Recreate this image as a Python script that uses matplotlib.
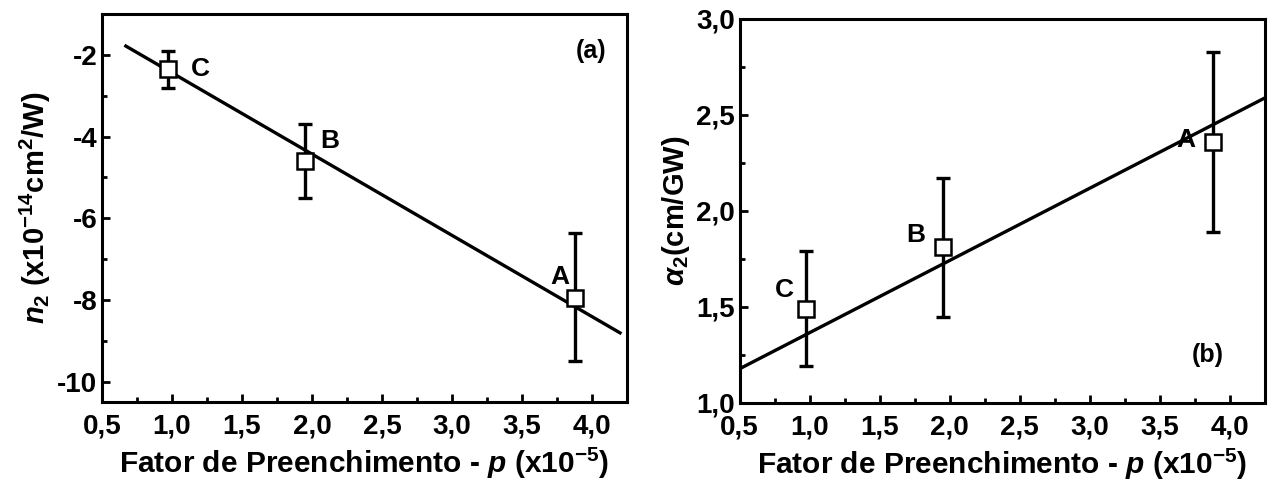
import matplotlib.pyplot as plt
from matplotlib.ticker import MultipleLocator, FuncFormatter

plt.rcParams['font.family'] = ['Liberation Sans', 'DejaVu Sans']
plt.rcParams['font.weight'] = 'bold'
plt.rcParams['axes.labelweight'] = 'bold'
plt.rcParams['mathtext.fontset'] = 'custom'
plt.rcParams['mathtext.rm'] = 'Liberation Sans:bold'
plt.rcParams['mathtext.bf'] = 'Liberation Sans:bold'
plt.rcParams['mathtext.it'] = 'Liberation Sans:italic:bold'

# samples A, B, C
labels = ['C', 'B', 'A']
p = [0.97, 1.95, 3.88]

n2 = [-2.35, -4.6, -7.95]
n2_lo = [-2.8, -5.5, -9.5]
n2_hi = [-1.9, -3.7, -6.35]
n2_fit = [-0.45, -1.99]  # intercept, slope

a2 = [1.49, 1.81, 2.36]
a2_lo = [1.19, 1.45, 1.89]
a2_hi = [1.79, 2.17, 2.83]
a2_fit = [0.99, 0.376]

fit_x = [0.67, 4.2]
fit_x_b = [0.5, 4.25]

comma = FuncFormatter(lambda v, pos: '{:.1f}'.format(v).replace('.', ','))
intfmt = FuncFormatter(lambda v, pos: '{:.0f}'.format(v))

fig = plt.figure(figsize=(12.71, 4.86), dpi=100)
ax1 = fig.add_axes([0.0803, 0.173, 0.413, 0.798])
ax2 = fig.add_axes([0.582, 0.171, 0.413, 0.790])


def style(ax):
    for s in ax.spines.values():
        s.set_linewidth(2.2)
    ax.tick_params(which='both', direction='in', width=2, labelsize=20)
    ax.tick_params(which='major', length=6)
    ax.tick_params(which='minor', length=3.5)
    ax.tick_params(axis='x', pad=8)
    ax.xaxis.set_major_locator(MultipleLocator(0.5))
    ax.xaxis.set_minor_locator(MultipleLocator(0.25))
    ax.xaxis.set_major_formatter(comma)
    ax.set_xlim(0.5, 4.25)
    ax.set_xlabel(r'Fator de Preenchimento - $\mathit{p}$ (x10$^{-5}$)', fontsize=21.5, labelpad=5)


def draw(ax, y, lo, hi, fit, fx):
    err = [[v - l for v, l in zip(y, lo)], [h - v for v, h in zip(y, hi)]]
    fy = [fit[0] + fit[1] * x for x in fx]
    ax.plot(fx, fy, color='black', lw=2.4, zorder=2)
    ax.errorbar(p, y, yerr=err, fmt='none', ecolor='black', elinewidth=2.4,
                capsize=5, capthick=2.4, zorder=3)
    ax.plot(p, y, ls='none', marker='s', ms=11, mfc='white', mec='black', mew=1.8, zorder=4)


# (a)
style(ax1)
draw(ax1, n2, n2_lo, n2_hi, n2_fit, fit_x)
ax1.set_ylim(-10.5, -1)
ax1.yaxis.set_major_locator(MultipleLocator(2))
ax1.yaxis.set_minor_locator(MultipleLocator(1))
ax1.yaxis.set_major_formatter(intfmt)
ax1.set_ylabel(r'$\mathit{n}_2$ (x10$^{-14}$cm$^2$/W)', fontsize=21, labelpad=3)
ax1.text(1.2, -2.35, 'C', fontsize=19, ha='center', va='center')
ax1.text(2.13, -4.1, 'B', fontsize=19, ha='center', va='center')
ax1.text(3.77, -7.45, 'A', fontsize=19, ha='center', va='center')
ax1.text(3.99, -1.9, '(a)', fontsize=18, ha='center', va='center')

# (b)
style(ax2)
draw(ax2, a2, a2_lo, a2_hi, a2_fit, fit_x_b)
ax2.set_ylim(1.0, 3.0)
ax2.yaxis.set_major_locator(MultipleLocator(0.5))
ax2.yaxis.set_minor_locator(MultipleLocator(0.25))
ax2.yaxis.set_major_formatter(comma)
ax2.set_ylabel(r'$\alpha_2$(cm/GW)', fontsize=21, labelpad=3)
ax2.text(0.82, 1.59, 'C', fontsize=19, ha='center', va='center')
ax2.text(1.76, 1.875, 'B', fontsize=19, ha='center', va='center')
ax2.text(3.69, 2.37, 'A', fontsize=19, ha='center', va='center')
ax2.text(3.84, 1.25, '(b)', fontsize=18, ha='center', va='center')

fig.savefig('out.png', dpi=100)
